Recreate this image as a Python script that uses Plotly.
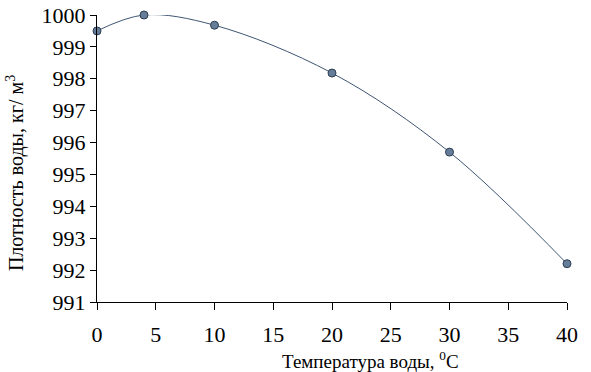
import plotly.graph_objects as go

temperature = [0, 4, 10, 20, 30, 40]
density = [999.5, 1000.0, 999.68, 998.18, 995.7, 992.2]
x_ticks = [0, 5, 10, 15, 20, 25, 30, 35, 40]
y_ticks = [991, 992, 993, 994, 995, 996, 997, 998, 999, 1000]
x_title = "Температура воды, <sup>0</sup>C"
y_title = "Плотность воды, кг/ м<sup>3</sup>"

FF = "Times New Roman"

fig = go.Figure()
fig.add_trace(go.Scatter(
    x=temperature, y=density, mode="lines+markers",
    line=dict(shape="spline", smoothing=1.0, color="#3e5673", width=1),
    marker=dict(size=8, color="#667d99", line=dict(color="#2c3e55", width=1)),
    cliponaxis=False, showlegend=False,
))

fig.update_layout(
    width=591, height=372,
    margin=dict(l=97, r=24, t=15, b=70),
    paper_bgcolor="white", plot_bgcolor="white",
    font=dict(family=FF, color="black"),
)
fig.update_xaxes(
    range=[0, 40], tickvals=x_ticks, ticks="outside", ticklen=7, tickwidth=1,
    tickcolor="black", showline=True, linecolor="black", linewidth=1,
    showgrid=False, zeroline=False, automargin=False, ticklabelstandoff=6,
    tickfont=dict(size=22, family=FF, color="black"),
)
fig.update_yaxes(
    range=[991, 1000], tickvals=y_ticks, ticks="outside", ticklen=6, tickwidth=1,
    tickcolor="black", showline=True, linecolor="black", linewidth=1,
    showgrid=False, zeroline=False, automargin=False,
    tickfont=dict(size=22, family=FF, color="black"),
)
fig.add_annotation(
    text=x_title, xref="paper", yref="paper", x=0.581, y=-0.203,
    xanchor="center", yanchor="middle", showarrow=False,
    font=dict(size=19, family=FF, color="black"),
)
fig.add_annotation(
    text=y_title, xref="paper", yref="paper", x=-0.1745, y=0.449,
    xanchor="center", yanchor="middle", showarrow=False, textangle=-90,
    font=dict(size=20, family=FF, color="black"),
)
fig.write_html("out.html")
